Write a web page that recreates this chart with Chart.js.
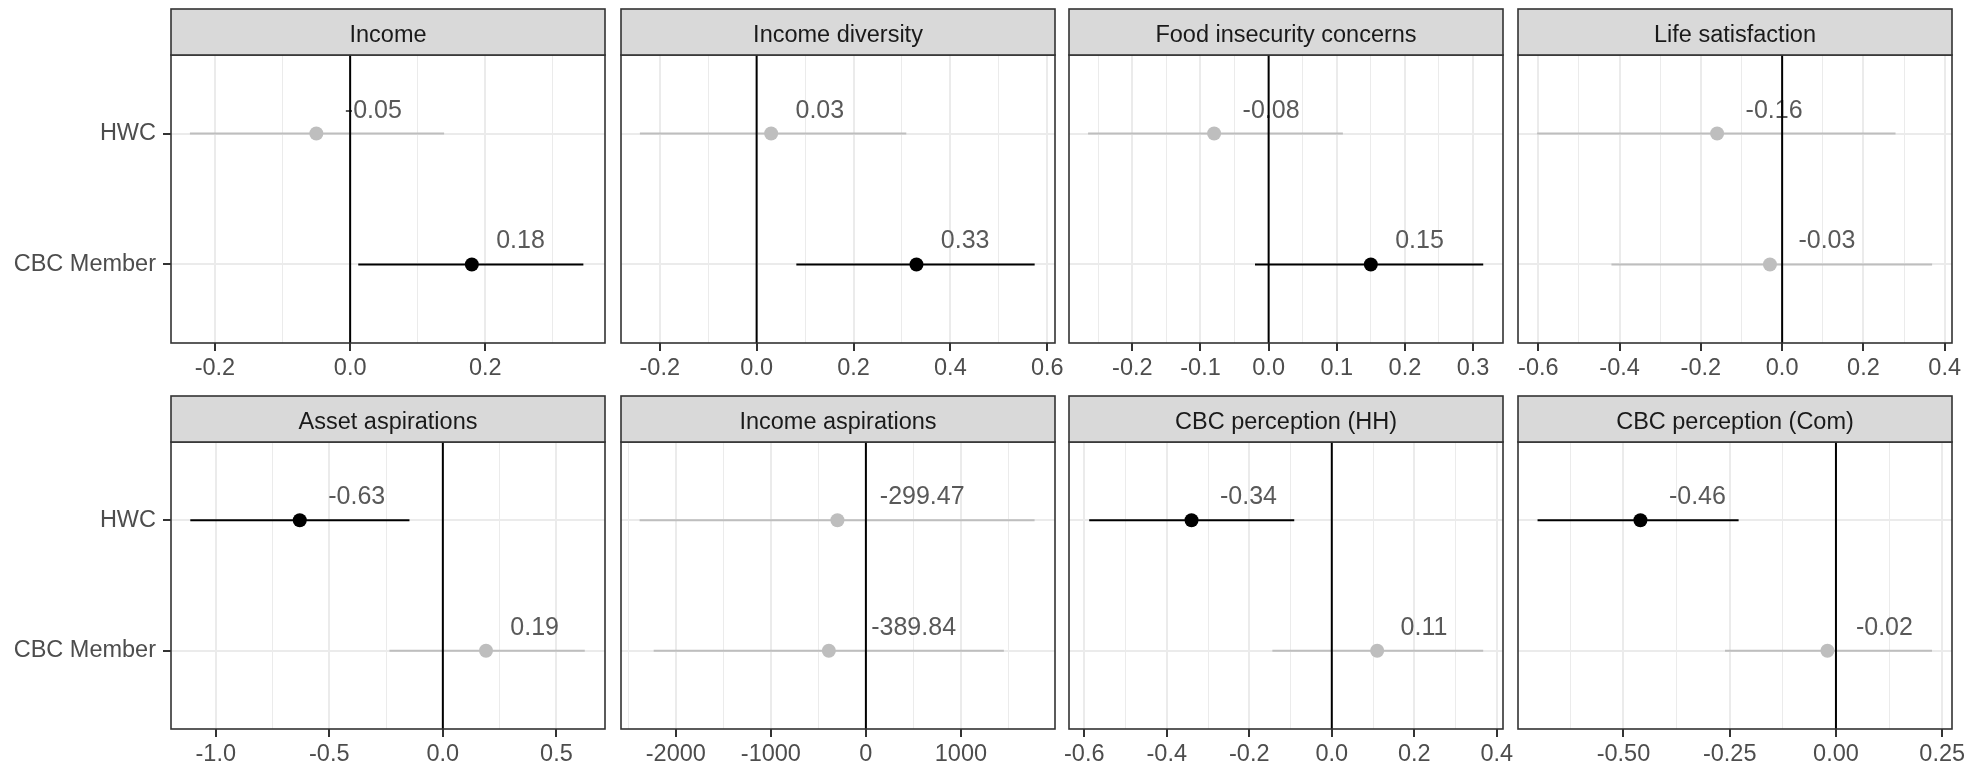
<!DOCTYPE html>
<html>
<head>
<meta charset="utf-8">
<script src="https://cdn.jsdelivr.net/npm/chart.js@4.4.0/dist/chart.umd.min.js"></script>
<style>
  html, body { margin: 0; padding: 0; background: #fff; overflow: hidden; }
  #wrap { position: relative; width: 1986px; height: 768px; }
  canvas { position: absolute; }
</style>
</head>
<body>
<div id="wrap"></div>
<script>

// =======================
// DATA
// =======================

const panelTitles = [
  "Income", "Income diversity", "Food insecurity concerns", "Life satisfaction",
  "Asset aspirations", "Income aspirations", "CBC perception (HH)", "CBC perception (Com)"
];
const groups = ["HWC", "CBC Member"];

// estimates and confidence bounds, one entry per panel
const estHWC = [-0.05, 0.03, -0.08, -0.16, -0.63, -299.47, -0.34, -0.46];
const loHWC  = [-0.237, -0.241, -0.265, -0.603, -1.112, -2381, -0.588, -0.702];
const hiHWC  = [0.139, 0.309, 0.109, 0.279, -0.147, 1775, -0.091, -0.229];
const sigHWC = [false, false, false, false, true, false, true, true];

const estCBC = [0.18, 0.33, 0.15, -0.03, 0.19, -389.84, 0.11, -0.02];
const loCBC  = [0.012, 0.082, -0.020, -0.420, -0.235, -2233, -0.144, -0.261];
const hiCBC  = [0.345, 0.574, 0.315, 0.369, 0.625, 1452, 0.367, 0.226];
const sigCBC = [true, true, true, false, false, false, false, false];

// x axis limits and ticks
const xMin = [-0.265, -0.280, -0.293, -0.650, -1.197, -2577, -0.637, -0.748];
const xMax = [0.377, 0.616, 0.344, 0.418, 0.714, 1990, 0.415, 0.273];
const tickValues = [
  [-0.2, 0, 0.2],
  [-0.2, 0, 0.2, 0.4, 0.6],
  [-0.2, -0.1, 0, 0.1, 0.2, 0.3],
  [-0.6, -0.4, -0.2, 0, 0.2, 0.4],
  [-1.0, -0.5, 0, 0.5],
  [-2000, -1000, 0, 1000],
  [-0.6, -0.4, -0.2, 0, 0.2, 0.4],
  [-0.5, -0.25, 0, 0.25]
];
const tickLabels = [
  ["-0.2", "0.0", "0.2"],
  ["-0.2", "0.0", "0.2", "0.4", "0.6"],
  ["-0.2", "-0.1", "0.0", "0.1", "0.2", "0.3"],
  ["-0.6", "-0.4", "-0.2", "0.0", "0.2", "0.4"],
  ["-1.0", "-0.5", "0.0", "0.5"],
  ["-2000", "-1000", "0", "1000"],
  ["-0.6", "-0.4", "-0.2", "0.0", "0.2", "0.4"],
  ["-0.50", "-0.25", "0.00", "0.25"]
];

// =======================
// LAYOUT
// =======================

const panelLeft = [171, 621, 1069, 1518];
const PANEL_W = 434;
const rowTop = [0, 386];
const panelTop = [55, 442];
const panelBottom = [343, 729];
const STRIP_H = 46;
const AXIS_H = 40;
const FONT = '"Liberation Sans", Arial, Helvetica, sans-serif';

const wrap = document.getElementById("wrap");

function near(a, b) { return Math.abs(a - b) < 1e-9; }

for (let p = 0; p < panelTitles.length; p++) {

  const col = p % 4;
  const row = Math.floor(p / 4);

  const padL = col === 0 ? 0 : 30;
  const padR = 30;
  const left = col === 0 ? 0 : panelLeft[col] - padL;
  const width = panelLeft[col] + PANEL_W + padR - left;
  const top = rowTop[row];
  const height = panelBottom[row] + AXIS_H - top;

  const cv = document.createElement("canvas");
  cv.width = width;
  cv.height = height;
  cv.style.left = left + "px";
  cv.style.top = top + "px";
  cv.style.width = width + "px";
  cv.style.height = height + "px";
  wrap.appendChild(cv);

  const est = [estHWC[p], estCBC[p]];
  const lo = [loHWC[p], loCBC[p]];
  const hi = [hiHWC[p], hiCBC[p]];
  const colr = [sigHWC[p], sigCBC[p]].map(s => s ? "#000000" : "#BEBEBE");

  // major ticks + minor grid halfway between them
  const majors = tickValues[p];
  const step = majors[1] - majors[0];
  const minors = [];
  for (let i = -1; i < majors.length; i++) {
    const m = (i < 0 ? majors[0] - step : majors[i]) + step / 2;
    if (m > xMin[p] && m < xMax[p]) minors.push(m);
  }
  const allTicks = majors.concat(minors).sort((a, b) => a - b);
  const isMajor = v => majors.some(m => near(m, v));
  const labelFor = v => {
    const i = majors.findIndex(m => near(m, v));
    return i >= 0 ? tickLabels[p][i] : "";
  };

  const panelPlugin = {
    id: "panel" + p,
    afterDatasetsDraw(chart) {
      const ctx = chart.ctx;
      const a = chart.chartArea;
      const xs = chart.scales.x;
      const ys = chart.scales.y;

      // value labels
      ctx.save();
      ctx.font = "25px " + FONT;
      ctx.fillStyle = "#595959";
      ctx.textAlign = "left";
      ctx.textBaseline = "alphabetic";
      for (let i = 0; i < 2; i++) {
        const txt = est[i].toFixed(2);
        const w = ctx.measureText(txt).width;
        const px = xs.getPixelForValue(est[i]);
        const py = ys.getPixelForValue(i + 1);
        ctx.fillText(txt, px + w * 0.5, py - 16);
      }
      ctx.restore();

      // zero line
      const x0 = xs.getPixelForValue(0);
      ctx.save();
      ctx.strokeStyle = "#000";
      ctx.lineWidth = 2;
      ctx.beginPath();
      ctx.moveTo(x0, a.top);
      ctx.lineTo(x0, a.bottom);
      ctx.stroke();

      // panel border
      ctx.strokeStyle = "#333333";
      ctx.lineWidth = 1.6;
      ctx.strokeRect(a.left, a.top, a.right - a.left, a.bottom - a.top);

      // strip
      ctx.fillStyle = "#D9D9D9";
      ctx.fillRect(a.left, a.top - STRIP_H, a.right - a.left, STRIP_H);
      ctx.strokeRect(a.left, a.top - STRIP_H, a.right - a.left, STRIP_H);
      ctx.fillStyle = "#1A1A1A";
      ctx.font = "23.5px " + FONT;
      ctx.textAlign = "center";
      ctx.textBaseline = "alphabetic";
      ctx.fillText(panelTitles[p], (a.left + a.right) / 2, a.top - 13);
      ctx.restore();
    }
  };

  new Chart(cv, {
    type: "scatter",
    data: {
      datasets: [
        {
          type: "scatter",
          data: [{ x: est[0], y: 1 }, { x: est[1], y: 2 }],
          backgroundColor: colr,
          borderColor: colr,
          borderWidth: 0,
          pointRadius: 7,
          order: 0
        },
        {
          type: "line",
          data: [{ x: lo[0], y: 1 }, { x: hi[0], y: 1 }],
          borderColor: colr[0],
          borderWidth: 2,
          pointRadius: 0,
          tension: 0,
          order: 1
        },
        {
          type: "line",
          data: [{ x: lo[1], y: 2 }, { x: hi[1], y: 2 }],
          borderColor: colr[1],
          borderWidth: 2,
          pointRadius: 0,
          tension: 0,
          order: 1
        }
      ]
    },
    options: {
      responsive: false,
      animation: false,
      devicePixelRatio: 1,
      events: [],
      layout: { padding: { left: padL, right: padR, top: panelTop[row] - top, bottom: 0 } },
      plugins: { legend: { display: false }, tooltip: { enabled: false } },
      scales: {
        x: {
          type: "linear",
          min: xMin[p],
          max: xMax[p],
          afterBuildTicks: s => { s.ticks = allTicks.map(v => ({ value: v })); },
          afterFit: s => { s.height = AXIS_H; },
          ticks: {
            autoSkip: false,
            maxRotation: 0,
            padding: 3,
            color: "#4D4D4D",
            font: { family: FONT, size: 23.5 },
            callback: v => labelFor(v)
          },
          grid: {
            color: "#EBEBEB",
            lineWidth: c => (c.tick && isMajor(c.tick.value)) ? 2 : 1,
            tickColor: c => (c.tick && isMajor(c.tick.value)) ? "#333333" : "rgba(0,0,0,0)",
            tickWidth: 2,
            tickLength: 8
          },
          border: { display: false }
        },
        y: {
          type: "linear",
          min: 0.4,
          max: 2.6,
          reverse: true,
          afterBuildTicks: s => { s.ticks = [{ value: 1 }, { value: 2 }]; },
          afterFit: s => { s.width = col === 0 ? panelLeft[0] : 0; },
          ticks: {
            display: col === 0,
            padding: 7,
            color: "#4D4D4D",
            font: { family: FONT, size: 23.5 },
            callback: v => groups[Math.round(v) - 1]
          },
          grid: {
            color: "#EBEBEB",
            lineWidth: 2,
            drawTicks: col === 0,
            tickLength: 8,
            tickColor: "#333333",
            tickWidth: 2
          },
          border: { display: false }
        }
      }
    },
    plugins: [panelPlugin]
  });
}

</script>
</body>
</html>
